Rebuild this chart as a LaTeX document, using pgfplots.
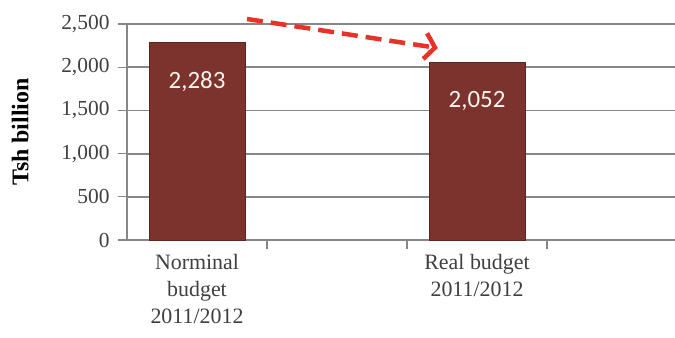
\documentclass[border=0pt]{standalone}
\usepackage{pgfplots}
\pgfplotsset{compat=1.18}
\usepackage{fontspec}
\setmainfont{Liberation Serif}
\newfontfamily\carlito{Carlito}
\usetikzlibrary{arrows.meta}
\definecolor{barred}{RGB}{124,50,45}
\definecolor{gridgray}{RGB}{135,135,135}
\definecolor{txtgray}{RGB}{64,64,64}
\definecolor{arrowred}{RGB}{232,50,40}
\begin{document}
\begin{tikzpicture}
\begin{axis}[
  scale only axis, width=548bp, height=216bp,
  xmin=-0.5, xmax=3.414, ymin=0, ymax=2500,
  clip=false,
  ytick={0,500,1000,1500,2000,2500},
  xtick={0.5,1.5,2.5}, xticklabels={},
  extra x ticks={0,2},
  extra x tick labels={Norminal\\budget\\2011/2012, Real budget\\2011/2012},
  extra x tick style={major tick length=0pt, grid=none},
  axis x line*=bottom, axis y line*=left,
  ymajorgrids, grid style={gridgray, line width=1.8bp},
  axis line style={gridgray, line width=1.8bp},
  tick style={gridgray, line width=1.2bp},
  major tick length=9bp,
  tick align=outside,
  /pgf/number format/.cd, 1000 sep={,}, assume math mode=true, /pgfplots/.cd,
  yticklabel style={font=\fontsize{21.5}{21.5}\selectfont, text=txtgray, xshift=-5bp},
  xticklabel style={font=\fontsize{22}{27}\selectfont, text=txtgray, align=center, yshift=-11bp},
  every axis y label/.style={at={(axis description cs:-0.195,0.5)}, rotate=90, anchor=center},
  ylabel={\bfseries Tsh billion},
  ylabel style={font=\fontsize{24}{24}\selectfont, text=black},
]
\addplot[ybar, bar width=96bp, fill=barred, draw=barred!75!black, line width=1bp,
  nodes near coords,
  nodes near coords style={font=\carlito\fontsize{25}{25}\selectfont, text=white!92!orange, anchor=north, yshift=-25bp}]
  coordinates {(0,2283) (2,2052)};
\draw[arrowred, line width=4.5bp, dash pattern=on 16bp off 8bp, -{Straight Barb[length=10bp, width=26bp]}]
  (axis cs:0.357,2558) -- (axis cs:1.72,2222);
\end{axis}
\pgfresetboundingbox
\path[use as bounding box] ([shift={(-127bp,-98bp)}]current axis.south west) rectangle ++(675bp,338bp);
\end{tikzpicture}
\end{document}
